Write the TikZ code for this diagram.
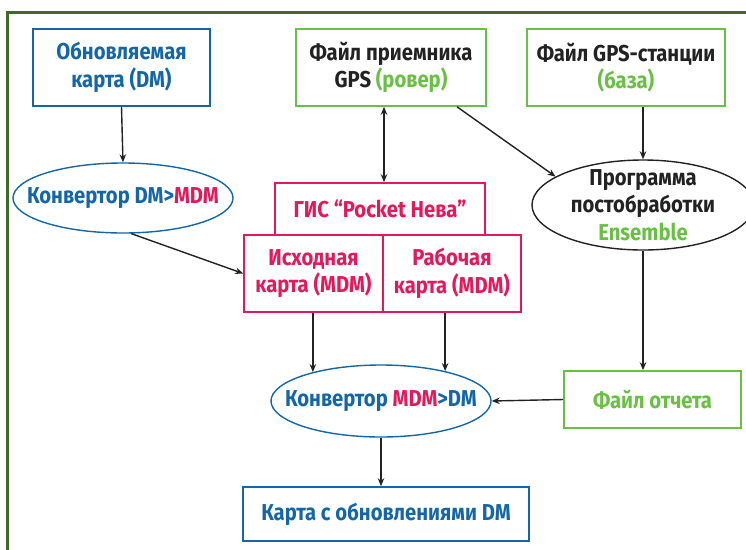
\documentclass[tikz,border=0pt]{standalone}
\usepackage{fontspec}
\setmainfont{Fira Sans}[FakeStretch=0.88]
\usetikzlibrary{shapes.geometric,arrows.meta}
\definecolor{cblue}{HTML}{1466A8}
\definecolor{cred}{HTML}{E3195A}
\definecolor{cgreen}{HTML}{6ABF45}
\definecolor{cframe}{HTML}{3E6B2C}
\definecolor{ctext}{HTML}{222222}
\begin{document}
\begin{tikzpicture}[x=1pt,y=-1pt,
  every node/.style={font=\fontsize{23}{27.5}\selectfont\bfseries, align=center, inner sep=0pt},
  bbox/.style={draw=cblue, line width=1.6pt, text=cblue, rectangle},
  gbox/.style={draw=cgreen, line width=1.6pt, text=ctext, rectangle},
  rbox/.style={draw=cred, line width=1.6pt, text=cred, rectangle},
  bell/.style={draw=cblue, line width=1.4pt, ellipse},
  kell/.style={draw=ctext, line width=1.4pt, ellipse},
  conn/.style={draw=ctext, line width=1.4pt, -{Stealth[length=8pt,width=6.5pt]}},
  conn2/.style={draw=ctext, line width=1.4pt, {Stealth[length=8pt,width=6.5pt]}-{Stealth[length=8pt,width=6.5pt]}}
]
\useasboundingbox (0,0) rectangle (746,549);
\draw[cframe, line width=3pt] (7,600) -- (7,12) -- (800,12);

\node[bbox, minimum width=177pt, minimum height=77pt] (ob) at (121.5,67.5) {Обновляемая\\карта (DM)};
\node[gbox, minimum width=190pt, minimum height=77pt] (rov) at (391,67.5) {Файл приемника\\GPS \textcolor{cgreen}{(ровер)}};
\node[gbox, minimum width=198pt, minimum height=77pt] (baz) at (626,67.5) {Файл GPS-станции\\\textcolor{cgreen}{(база)}};

\node[bell, minimum width=220pt, minimum height=70pt] (conv1) at (123,198) {};
\node[text=cblue] (conv1t) at (conv1.center) {Конвертор DM>\textcolor{cred}{MDM}};
\node[rbox, minimum width=210pt, minimum height=52pt] (gis) at (380,209) {ГИС “Pocket Нева”};
\node[rbox, minimum width=139pt, minimum height=77pt] (isx) at (313.5,273.5) {Исходная\\карта (MDM)};
\node[rbox, minimum width=138pt, minimum height=77pt] (rab) at (452,273.5) {Рабочая\\карта (MDM)};
\node[kell, minimum width=222pt, minimum height=90pt] (prog) at (643,205) {};
\node[text=ctext] (progt) at (prog.center) {Программа\\постобработки\\\textcolor{cgreen}{Ensemble}};

\node[gbox, text=cgreen, minimum width=177pt, minimum height=57pt] (otch) at (652.5,399.5) {Файл отчета};
\node[bell, minimum width=220pt, minimum height=72pt] (conv2) at (381,401) {};
\node[text=cblue] (conv2t) at (conv2.center) {Конвертор \textcolor{cred}{MDM}>DM};
\node[bbox, minimum width=286pt, minimum height=54pt] (karta) at (386,514) {Карта с обновлениями DM};

\draw[conn] (ob.south) -- (conv1.north);
\draw[conn] (conv1.283) -- (isx.west);
\draw[conn2] ([xshift=-7pt]rov.south) -- ([xshift=4pt]gis.north);
\draw[conn] ([xshift=66pt]rov.south) -- (prog.162);
\draw[conn] (baz.south -| prog.north) -- (prog.north);
\draw[conn] (prog.south) -- (prog.south |- otch.north);
\draw[conn] (isx.south -| conv2.157.6) -- (conv2.157.6);
\draw[conn] (rab.south -| conv2.25.6) -- (conv2.25.6);
\draw[conn] (otch.west) -- (conv2.east);
\draw[conn] (conv2.south) -- (conv2.south |- karta.north);
\end{tikzpicture}
\end{document}
